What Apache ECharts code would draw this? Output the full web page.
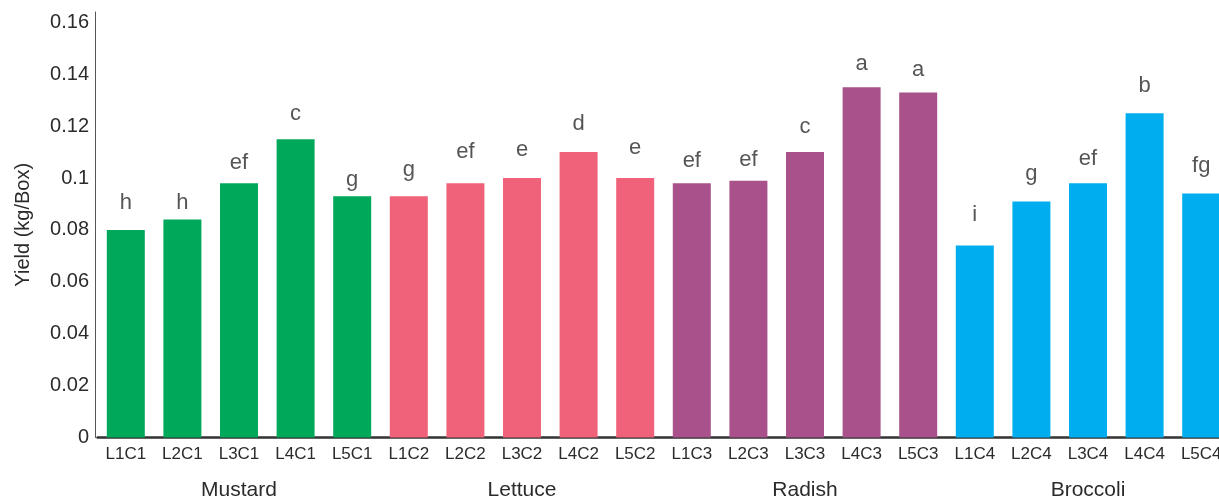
<!DOCTYPE html>
<html>
<head>
<meta charset="utf-8">
<style>
  html, body { margin: 0; padding: 0; background: #fff; overflow: hidden; }
  #chart { width: 1219px; height: 497px; }
</style>
<script src="https://cdn.jsdelivr.net/npm/echarts@6/dist/echarts.min.js"></script>
</head>
<body>
<div id="chart"></div>
<script>
// Treatments (x axis) and crop groups
const treatments = ['L1C1','L2C1','L3C1','L4C1','L5C1',
                    'L1C2','L2C2','L3C2','L4C2','L5C2',
                    'L1C3','L2C3','L3C3','L4C3','L5C3',
                    'L1C4','L2C4','L3C4','L4C4','L5C4'];
const crops = ['Mustard', 'Lettuce', 'Radish', 'Broccoli'];

// Mean yield (kg/Box)
const yieldMean = [0.080, 0.084, 0.098, 0.115, 0.093,
                   0.093, 0.098, 0.100, 0.110, 0.100,
                   0.098, 0.099, 0.110, 0.135, 0.133,
                   0.074, 0.091, 0.098, 0.125, 0.094];

// Standard error above each mean; significance letters sit on top of it
const yieldErr = [0.0060, 0.0020, 0.0035, 0.0054, 0.0020,
                  0.0060, 0.0080, 0.0066, 0.0066, 0.0073,
                  0.0042, 0.0039, 0.0054, 0.0046, 0.0046,
                  0.0077, 0.0062, 0.0050, 0.0062, 0.0066];

// Duncan grouping letters
const letters = ['h','h','ef','c','g',
                 'g','ef','e','d','e',
                 'ef','ef','c','a','a',
                 'i','g','ef','b','fg'];

const yTicks = { min: 0, max: 0.164, interval: 0.02 };

const cropColors = ['#00A85A', '#F06279', '#A8518A', '#00AEEF'];
const textColor = '#2b2b2b';
const fontFamily = '"Liberation Sans", Arial, sans-serif';

const chart = echarts.init(document.getElementById('chart'), null, { renderer: 'canvas' });

const perCrop = treatments.length / crops.length;

chart.setOption({
  animation: false,
  textStyle: { fontFamily: fontFamily },
  grid: {
    left: 97.5, top: 12, width: 1132, height: 425.5,
    containLabel: false, outerBoundsMode: 'none'
  },
  xAxis: [
    {
      type: 'category',
      data: treatments,
      position: 'bottom',
      axisLine: { show: true, lineStyle: { color: '#333333', width: 2.5 } },
      axisTick: { show: false },
      axisLabel: { color: textColor, fontSize: 17, margin: 8, interval: 0, fontFamily: fontFamily },
      splitLine: { show: false }
    },
    {
      type: 'category',
      data: crops,
      position: 'bottom',
      offset: 35,
      axisLine: { show: false },
      axisTick: { show: false },
      axisLabel: { color: textColor, fontSize: 21, margin: 7, interval: 0, fontFamily: fontFamily },
      splitLine: { show: false }
    }
  ],
  yAxis: {
    type: 'value',
    min: yTicks.min,
    max: yTicks.max,
    interval: yTicks.interval,
    offset: 2.5,
    name: 'Yield (kg/Box)',
    nameLocation: 'middle',
    nameGap: 62,
    nameTextStyle: { color: textColor, fontSize: 20, fontFamily: fontFamily },
    axisLine: { show: true, lineStyle: { color: '#555555', width: 1 } },
    axisTick: { show: false },
    splitLine: { show: false },
    axisLabel: {
      color: textColor, fontSize: 20, margin: 6, fontFamily: fontFamily,
      showMaxLabel: false,
      formatter: v => String(parseFloat(v.toFixed(2)))
    }
  },
  series: [
    {
      type: 'bar',
      xAxisIndex: 0,
      barWidth: 38,
      data: yieldMean.map((v, i) => ({
        value: v,
        itemStyle: { color: cropColors[Math.floor(i / perCrop)] }
      })),
      silent: true
    },
    {
      type: 'scatter',
      xAxisIndex: 0,
      symbolSize: 0,
      silent: true,
      data: yieldMean.map((v, i) => v + yieldErr[i]),
      label: {
        show: true,
        position: 'top',
        distance: 0,
        color: textColor,
        fontSize: 22,
        fontFamily: fontFamily,
        formatter: p => letters[p.dataIndex]
      }
    }
  ]
});
</script>
</body>
</html>
